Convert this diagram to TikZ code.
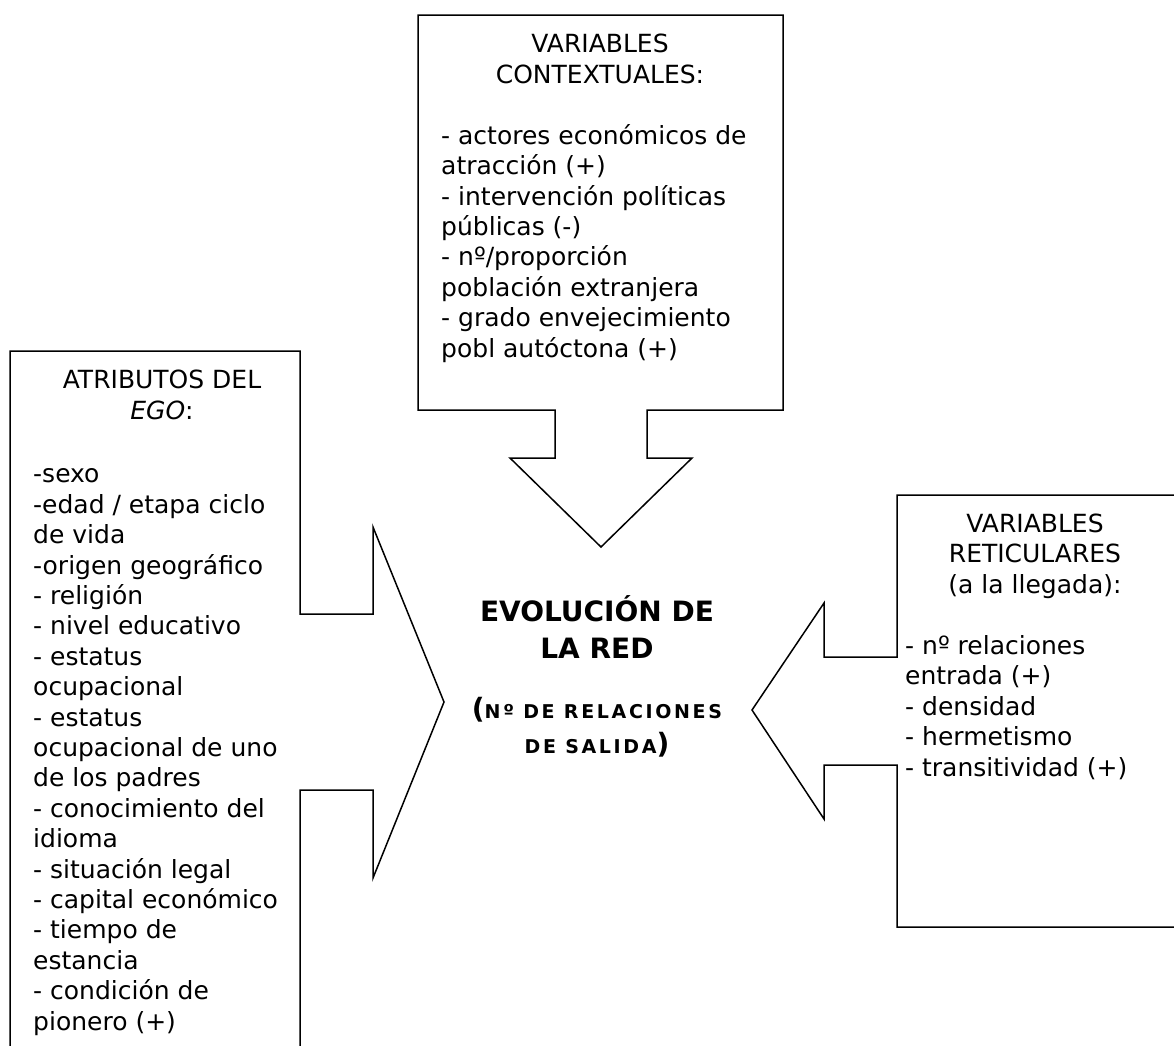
\documentclass[tikz,border=0pt]{standalone}
\usepackage{fontspec}
\setmainfont{DejaVu Sans}

\begin{document}
\begin{tikzpicture}[x=1pt,y=-1pt,
  callout/.style={draw=black,line width=1.5pt,line join=miter},
  ttl/.style={align=center,inner sep=0pt,anchor=base,font=\fontsize{25}{30.4}\selectfont},
  lst/.style={align=left,inner sep=0pt,anchor=base west,font=\fontsize{25}{30.4}\selectfont},
  hub/.style={align=center,inner sep=0pt,anchor=base,font=\bfseries\fontsize{28}{37}\selectfont}]
  \useasboundingbox (0,0) rectangle (1174,1045);
  \clip (0,0) rectangle (1174,1045);
  \draw[callout] (418,15) -- (783,15) -- (783,410) -- (647,410) -- (647,458) -- (692,458) -- (601,547)
    -- (510,458) -- (555,458) -- (555,410) -- (418,410) -- cycle;
  \draw[callout] (10,351) -- (300,351) -- (300,614) -- (373,614) -- (373,527) -- (444,702) -- (373,878)
    -- (373,790) -- (300,790) -- (300,1070) -- (10,1070) -- cycle;
  \draw[callout] (897,495) -- (1190,495) -- (1190,927) -- (897,927) -- (897,765) -- (824,765) -- (824,819)
    -- (752,710) -- (824,603) -- (824,657) -- (897,657) -- cycle;
  % nodes are placed by the baseline of their last line
  \node[ttl] (ctxT) at (600,83) {VARIABLES\\CONTEXTUALES:};
  \node[lst] (ctxL) at (441,357) {- actores económicos de\\atracción (+)\\- intervención políticas\\públicas (-)\\- nº/proporción\\población extranjera\\- grado envejecimiento\\pobl autóctona (+)};
  \node[ttl] (egoT) at (162,419) {ATRIBUTOS DEL\\\textit{EGO}:};
  \node[lst] (egoL) at (33,1030) {-sexo\\-edad / etapa ciclo\\de vida\\-origen geográfico\\- religión\\- nivel educativo\\- estatus\\ocupacional\\- estatus\\ocupacional de uno\\de los padres\\- conocimiento del\\idioma\\- situación legal\\- capital económico\\- tiempo de\\estancia\\- condición de\\pionero (+)};
  \node[ttl] (retT) at (1035,593) {VARIABLES\\RETICULARES\\(a la llegada):};
  \node[lst] (retL) at (905,776) {- nº relaciones\\entrada (+)\\- densidad\\- hermetismo\\- transitividad (+)};
  \node[hub] (red) at (597,658) {EVOLUCIÓN DE\\LA RED};
  \node[hub,font=\bfseries\fontsize{28}{35}\selectfont] (salida) at (597,753)
    {({\fontsize{19}{35}\selectfont\addfontfeature{LetterSpace=14}Nº DE RELACIONES}\\{\fontsize{19}{35}\selectfont\addfontfeature{LetterSpace=14}DE SALIDA})};
\end{tikzpicture}
\end{document}
